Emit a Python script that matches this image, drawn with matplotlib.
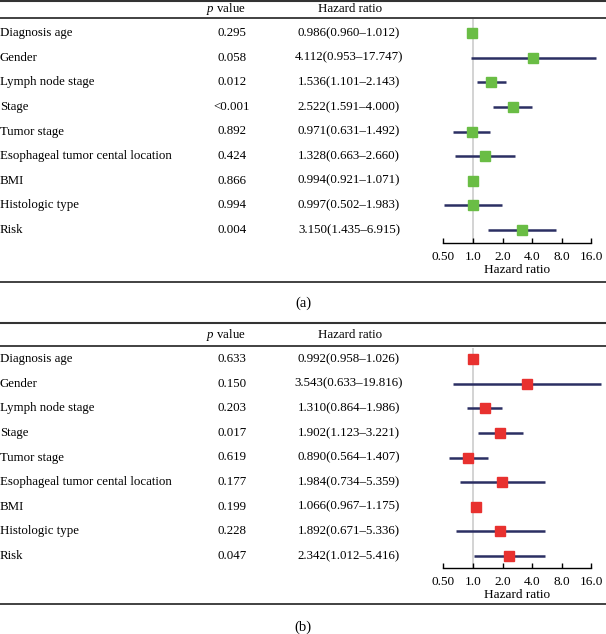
import matplotlib
matplotlib.use("Agg")
import matplotlib.pyplot as plt
import numpy as np
from matplotlib.lines import Line2D

# Row labels (same for both panels)
variables = ['Diagnosis age', 'Gender', 'Lymph node stage', 'Stage', 'Tumor stage',
             'Esophageal tumor cental location', 'BMI', 'Histologic type', 'Risk']

# Panel (a)
p_a = ['0.295', '0.058', '0.012', '<0.001', '0.892', '0.424', '0.866', '0.994', '0.004']
hr_a = [0.986, 4.112, 1.536, 2.522, 0.971, 1.328, 0.994, 0.997, 3.150]
lo_a = [0.960, 0.953, 1.101, 1.591, 0.631, 0.663, 0.921, 0.502, 1.435]
hi_a = [1.012, 17.747, 2.143, 4.000, 1.492, 2.660, 1.071, 1.983, 6.915]

# Panel (b)
p_b = ['0.633', '0.150', '0.203', '0.017', '0.619', '0.177', '0.199', '0.228', '0.047']
hr_b = [0.992, 3.543, 1.310, 1.902, 0.890, 1.984, 1.066, 1.892, 2.342]
lo_b = [0.958, 0.633, 0.864, 1.123, 0.564, 0.734, 0.967, 0.671, 1.012]
hi_b = [1.026, 19.816, 1.986, 3.221, 1.407, 5.359, 1.175, 5.336, 5.416]

ticks = [0.5, 1, 2, 4, 8, 16]
tick_labels = ['0.50', '1.0', '2.0', '4.0', '8.0', '16.0']

W, H = 606, 634
plt.rcParams['font.family'] = ['Liberation Serif', 'DejaVu Serif']
plt.rcParams['font.size'] = 9
plt.rcParams['mathtext.fontset'] = 'custom'
plt.rcParams['mathtext.it'] = 'Liberation Serif:italic'
plt.rcParams['mathtext.rm'] = 'Liberation Serif'

fig = plt.figure(figsize=(W / 100, H / 100), dpi=100)

navy = '#2b2f63'
rule = '#333333'


def fy(px):
    return 1 - px / H


def fx(px):
    return px / W


def hline(px, lw):
    fig.add_artist(Line2D([0, 1], [fy(px), fy(px)], color=rule, lw=lw,
                          transform=fig.transFigure))


def panel(top_rule, header_y, header_rule, row0, axis_y, gray_top, bottom_rule,
          letter_y, letter, p, hr, lo, hi, color):
    n = len(variables)
    step = 24.625
    row_last = row0 + step * (n - 1)
    ymax = (axis_y - row_last) / step + (n - 1)
    ymin = -(row0 - gray_top) / step
    left_px, right_px = 430, 606
    ax = fig.add_axes([fx(left_px), fy(axis_y), fx(right_px - left_px),
                       (axis_y - gray_top) / H])
    ax.set_xscale('log', base=2)
    # 1.0 sits at px 473, 29.6 px per doubling
    ax.set_xlim(2 ** ((left_px - 473) / 29.6), 2 ** ((right_px - 473) / 29.6))
    ax.set_ylim(ymax, ymin)
    ax.patch.set_alpha(0)
    for s in ['top', 'right', 'left']:
        ax.spines[s].set_visible(False)
    ax.spines['bottom'].set_bounds(0.5, 16)
    ax.spines['bottom'].set_linewidth(1.0)
    ax.set_yticks([])
    ax.set_xticks(ticks)
    ax.set_xticklabels(tick_labels, fontsize=9.5)
    ax.xaxis.set_minor_locator(matplotlib.ticker.NullLocator())
    ax.tick_params(axis='x', direction='in', length=3.5, width=1.0, pad=6)
    ax.set_xlabel('Hazard ratio', fontsize=9.5, labelpad=0)
    # label top sits about 21 px below the axis line
    ax.xaxis.set_label_coords((517 - left_px) / (right_px - left_px),
                              -21 / (axis_y - gray_top))

    ax.axvline(1, color='#cccccc', lw=1.2, zorder=0)
    y = np.arange(n)
    ax.hlines(y, lo, hi, color=navy, lw=1.8, zorder=2)
    ax.plot(hr, y, 's', color=color, markersize=7, zorder=3, linestyle='none')

    # table text
    for i in range(n):
        yy = fy(row0 + i * step)
        fig.text(0.0, yy, variables[i], ha='left', va='center', fontsize=9.3)
        fig.text(fx(232), yy, p[i], ha='center', va='center', fontsize=9.3)
        fig.text(fx(349), yy, f'{hr[i]:.3f}({lo[i]:.3f}\u2013{hi[i]:.3f})',
                 ha='center', va='center', fontsize=9.3)
    fig.text(fx(226), fy(header_y), '$\\it{p}$ value', ha='center', va='center',
             fontsize=9.3)
    fig.text(fx(350), fy(header_y), 'Hazard ratio', ha='center', va='center',
             fontsize=9.3)

    hline(top_rule, 1.5)
    hline(header_rule, 1.3)
    hline(bottom_rule, 1.3)
    fig.text(0.5, fy(letter_y), letter, ha='center', va='center', fontsize=10.5)


panel(1, 9, 18, 33, 243, 19, 282, 303, '(a)', p_a, hr_a, lo_a, hi_a, '#6abd45')
panel(323, 335, 346, 359, 568, 348, 604, 627, '(b)', p_b, hr_b, lo_b, hi_b, '#e8312f')

fig.savefig('out.png', dpi=100)
